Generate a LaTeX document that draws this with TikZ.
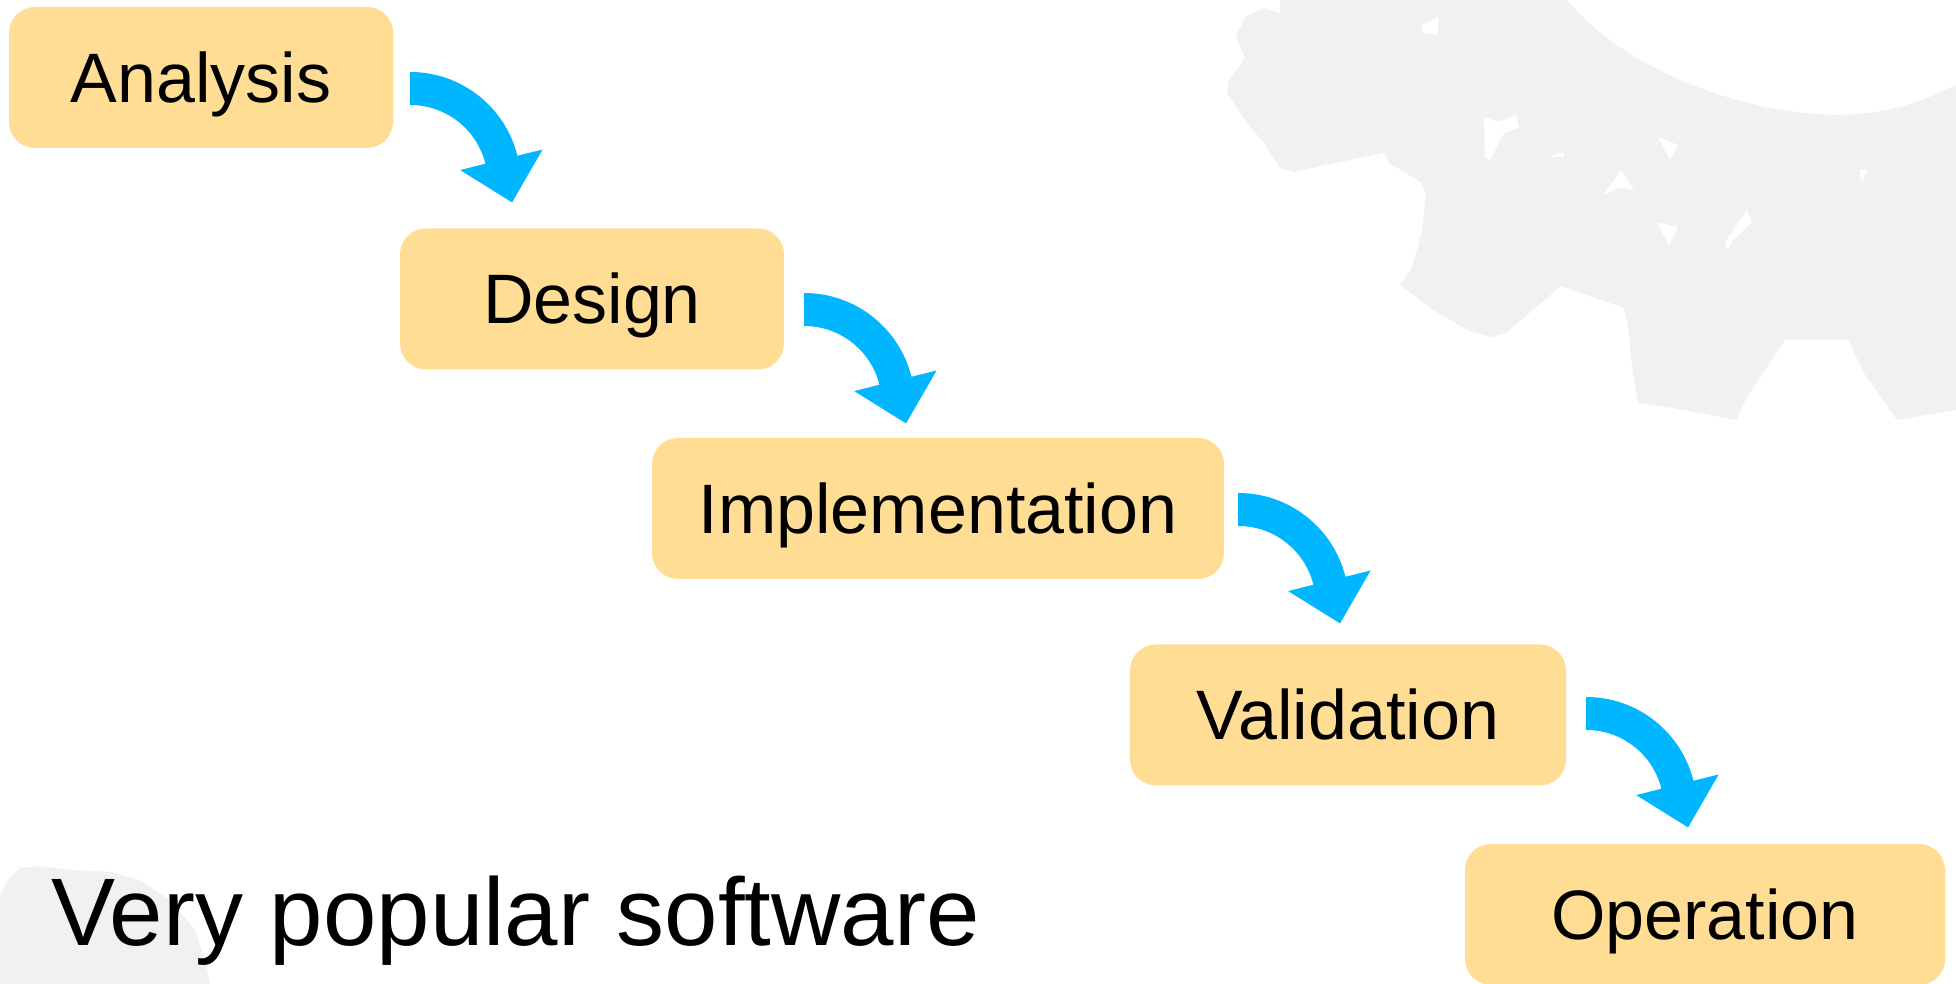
\documentclass[tikz,border=0pt]{standalone}
\usepackage{fontspec}
\setmainfont{Liberation Sans}
\usetikzlibrary{calc}
\definecolor{boxc}{RGB}{255,221,148}
\definecolor{arrowc}{RGB}{0,183,255}
\definecolor{mapc}{RGB}{241,241,241}
\tikzset{
  stage/.style={fill=boxc, rounded corners=26pt, text=black,
    font=\fontsize{70}{84}\selectfont, text height=50pt, text depth=0pt,
    inner sep=0pt, minimum height=141pt},
  hole/.style={fill=white},
  curvearrow/.pic={
    \fill[arrowc] (0,16.5) arc[start angle=90,end angle=14,radius=110.5]
      -- (132.4,-61.0) -- (101.85,-113.94) -- (50.0,-81.6) -- (75.2,-75.25)
      arc[start angle=14,end angle=90,radius=77.5] -- cycle;
  }
}
\begin{document}
\begin{tikzpicture}[x=1pt,y=1pt]
\useasboundingbox (0,0) rectangle (1956,984);
% background map shapes
\fill[mapc] (1280,984) -- (1280,971) -- (1264,976) -- (1245,967) -- (1236,947) -- (1245,926)
  -- (1228,902) -- (1227,891) -- (1247,861) -- (1264,841) -- (1280,816) -- (1294,812)
  -- (1340,822) -- (1384,831) -- (1389,821) -- (1422,801) -- (1426,789) -- (1422,751)
  -- (1411,714) -- (1400,699) -- (1433,674) -- (1471,652) -- (1493,647) -- (1507,652)
  -- (1561,698) -- (1624,676) -- (1628,657) -- (1632,617) -- (1638,581) -- (1668,577)
  -- (1736,564) -- (1747,587) -- (1785,644) -- (1810,644) -- (1848,644) -- (1864,611)
  -- (1897,564) -- (1956,574) -- (1956,899)
  .. controls (1900,870) and (1850,866) .. (1804,871)
  .. controls (1720,880) and (1620,920) .. (1567,984) -- cycle;
\fill[hole] (1422,959) -- (1438,967) -- (1438,949) -- (1422,951) -- cycle;
\fill[hole] (1484,867) -- (1499,862) -- (1516,869) -- (1519,856) -- (1504,851) -- (1490,824) -- (1485,827) -- cycle;
\fill[hole] (1658,847) -- (1678,839) -- (1670,824) -- cycle;
\fill[hole] (1621,814) -- (1634,794) -- (1619,796) -- (1603,789) -- cycle;
\fill[hole] (1657,762) -- (1678,757) -- (1669,738) -- cycle;
\fill[hole] (1747,774) -- (1752,762) -- (1733,744) -- (1727,734) -- (1725,742) -- cycle;
\fill[hole] (1548,827) -- (1564,832) -- (1564,827) -- cycle;
\fill[hole] (1859,814) -- (1867,814) -- (1862,802) -- cycle;
\fill[mapc] (0,89) -- (8,104) -- (20,116) -- (40,118) -- (70,114) -- (110,112) -- (140,104)
  -- (170,84) -- (195,54) -- (205,24) -- (210,0) -- (0,0) -- cycle;
% stages
\node[stage, minimum width=384pt] (analysis) at (201,906.5) {Analysis};
\node[stage, minimum width=384pt] (design) at (592,685) {Design};
\node[stage, minimum width=572pt] (impl) at (938,475.5) {Implementation};
\node[stage, minimum width=436pt] (valid) at (1348,269) {Validation};
\node[stage, minimum width=480pt] (oper) at (1705,69.5) {Operation};
% arrows
\coordinate (a1) at ($(analysis.east)+(17,-11)$);
\coordinate (a2) at ($(design.east)+(20,-10.5)$);
\coordinate (a3) at ($(impl.east)+(14,-1)$);
\coordinate (a4) at ($(valid.east)+(20,1.5)$);
\pic at (a1) {curvearrow};
\pic at (a2) {curvearrow};
\pic at (a3) {curvearrow};
\pic at (a4) {curvearrow};
% tagline
\node[anchor=base west, inner sep=0pt, font=\fontsize{96}{115}\selectfont] (tag) at (51,38) {Very popular software};
\end{tikzpicture}
\end{document}
